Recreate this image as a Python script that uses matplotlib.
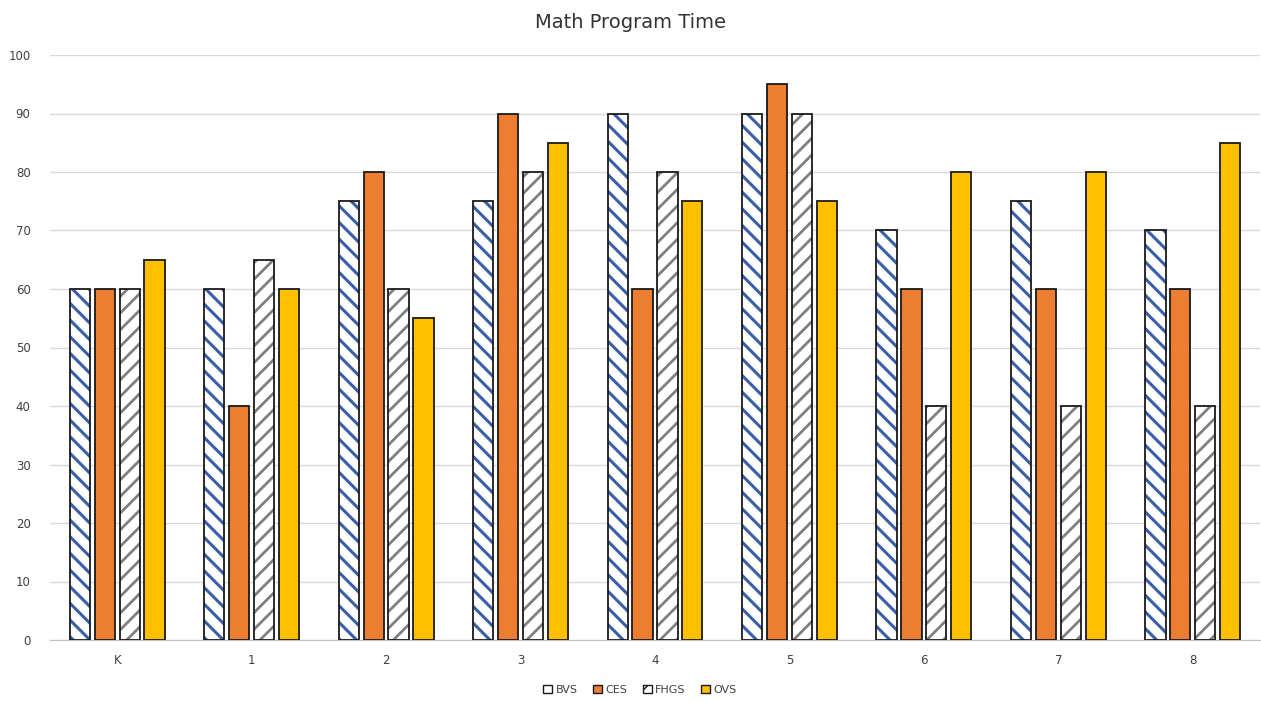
import matplotlib
matplotlib.use("Agg")
import matplotlib.pyplot as plt
import numpy as np

categories = ["K", "1", "2", "3", "4", "5", "6", "7", "8"]
series_names = ["BVS", "CES", "FHGS", "OVS"]
bvs = [60, 60, 75, 75, 90, 90, 70, 75, 70]
ces = [60, 40, 80, 90, 60, 95, 60, 60, 60]
fhgs = [60, 65, 60, 80, 80, 90, 40, 40, 40]
ovs = [65, 60, 55, 85, 75, 75, 80, 80, 85]
yticks = list(range(0, 101, 10))

fig = plt.figure(figsize=(12.61, 7.02), dpi=100)
ax = fig.add_axes([50/1261, 1-640/702, 1210/1261, (640-55)/702])

x = np.arange(len(categories))
w = 0.15
step = 0.185
styles = [
    dict(facecolor="white", edgecolor="#3A5FA8", hatch="\\\\", hlw=2.2),
    dict(facecolor="#ED7D31", edgecolor="#ED7D31", hatch=None, hlw=1.0),
    dict(facecolor="white", edgecolor="#808080", hatch="//", hlw=2.0),
    dict(facecolor="#FFC000", edgecolor="#FFC000", hatch=None, hlw=1.0),
]
data = [bvs, ces, fhgs, ovs]
handles = []
for i, (vals, st, name) in enumerate(zip(data, styles, series_names)):
    pos = x + (i - 1.5) * step
    with plt.rc_context({"hatch.linewidth": st["hlw"]}):
        bars = ax.bar(pos, vals, w, facecolor=st["facecolor"], edgecolor=st["edgecolor"],
                      hatch=st["hatch"], linewidth=0, zorder=2, label=name)
    for p in bars:
        if hasattr(p, "set_hatch_linewidth"):
            p.set_hatch_linewidth(st["hlw"])
    ax.bar(pos, vals, w, facecolor="none", edgecolor="#1a1a1a", linewidth=1.3, zorder=3)
    handles.append(bars)

ax.set_xlim(-0.5, len(categories) - 0.5)
ax.set_ylim(0, 100)
ax.set_yticks(yticks)
ax.set_xticks(x)
ax.set_xticklabels(categories)
ax.grid(axis="y", color="#D9D9D9", linewidth=1, zorder=0)
ax.set_axisbelow(True)
for s in ["top", "right", "left"]:
    ax.spines[s].set_visible(False)
ax.spines["bottom"].set_color("#BFBFBF")
ax.tick_params(axis="both", length=0, labelsize=8.5, labelcolor="#404040")
ax.tick_params(axis="x", pad=10)
ax.tick_params(axis="y", pad=14)

fig.text(0.5, 1-22/702, "Math Program Time", ha="center", va="center", fontsize=14, color="#333333")
leg = fig.legend(handles, series_names, loc="center", bbox_to_anchor=(640/1261, 1-690/702), ncol=4,
                 frameon=False, fontsize=8, handlelength=0.8, handleheight=0.8, handletextpad=0.3,
                 columnspacing=1.4, labelcolor="#404040")
for h in leg.legend_handles:
    h.set_edgecolor("#1a1a1a")
    h.set_linewidth(1)

fig.savefig("out.png", dpi=100)
